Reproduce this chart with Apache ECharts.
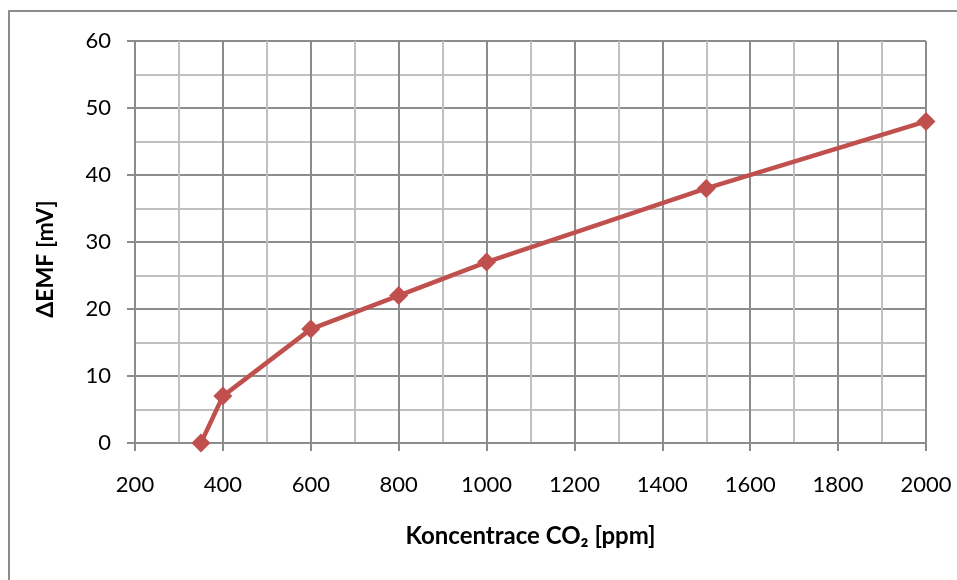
<!DOCTYPE html>
<html>
<head>
<meta charset="utf-8">
<script src="https://cdn.jsdelivr.net/npm/echarts@6/dist/echarts.min.js"></script>
<style>html,body{margin:0;padding:0;background:#fff}#c{width:957px;height:580px}</style>
</head>
<body>
<div id="c"></div>
<script>
const xValues = [350, 400, 600, 800, 1000, 1500, 2000];
const yValues = [0, 7, 17, 22, 27, 38, 48];
const xName = 'Koncentrace CO₂ [ppm]';
const yName = 'ΔEMF [mV]';
const font = 'Lato';
const chart = echarts.init(document.getElementById('c'), null, {renderer: 'canvas'});
chart.setOption({
  animation: false,
  backgroundColor: '#fff',
  graphic: [{type: 'rect', shape: {x: 9, y: 11, width: 1200, height: 1000}, style: {fill: 'none', stroke: '#8c8c8c', lineWidth: 2}, z: -1}],
  grid: {left: 135, right: 31, top: 41, bottom: 137},
  xAxis: {
    type: 'value', min: 200, max: 2000, interval: 200,
    name: xName, nameLocation: 'middle', nameGap: 81,
    nameTextStyle: {fontFamily: font, fontSize: 24, fontWeight: 'bold', color: '#000'},
    axisLine: {show: true, lineStyle: {color: '#8c8c8c', width: 2}},
    axisTick: {show: true, length: 8, lineStyle: {color: '#8c8c8c', width: 2}},
    axisLabel: {fontFamily: font, fontSize: 22, color: '#000', margin: 31, formatter: v => String(v)},
    splitLine: {show: true, lineStyle: {color: '#8c8c8c', width: 2}},
    minorTick: {show: false, splitNumber: 2},
    minorSplitLine: {show: true, lineStyle: {color: '#c0c0c0', width: 2}}
  },
  yAxis: {
    type: 'value', min: 0, max: 60, interval: 10,
    name: yName, nameLocation: 'middle', nameGap: 78, nameRotate: 90,
    nameTextStyle: {fontFamily: font, fontSize: 23, fontWeight: 'bold', color: '#000', padding: [0, 34, 0, 0]},
    axisLine: {show: true, lineStyle: {color: '#8c8c8c', width: 2}},
    axisTick: {show: true, length: 8, lineStyle: {color: '#8c8c8c', width: 2}},
    axisLabel: {fontFamily: font, fontSize: 22, color: '#000', margin: 24, formatter: v => String(v)},
    splitLine: {show: true, lineStyle: {color: '#8c8c8c', width: 2}},
    minorTick: {show: false, splitNumber: 2},
    minorSplitLine: {show: true, lineStyle: {color: '#c0c0c0', width: 2}}
  },
  series: [{
    type: 'line',
    data: xValues.map((x, i) => [x, yValues[i]]),
    symbol: 'diamond', symbolSize: 19,
    lineStyle: {color: '#C0504D', width: 4.5},
    itemStyle: {color: '#C0504D'},
    clip: false
  }]
});
</script>
</body>
</html>
